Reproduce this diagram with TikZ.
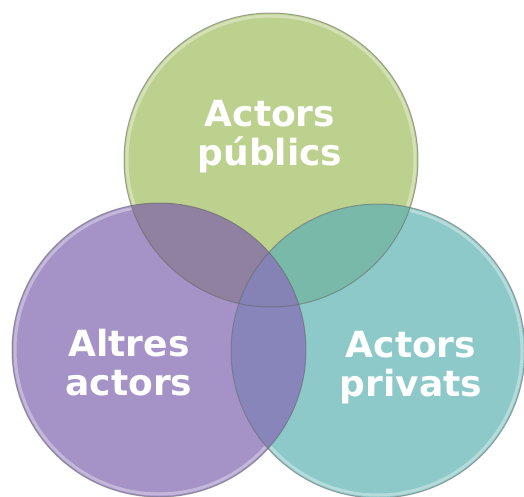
\documentclass[tikz,border=0pt]{standalone}
\usepackage{fontspec}
\setmainfont{DejaVu Sans}
\definecolor{cgreen}{HTML}{BDD18F}
\definecolor{cpurple}{HTML}{A593C7}
\definecolor{cteal}{HTML}{8EC9C9}
\definecolor{cgp}{HTML}{8F819F}
\definecolor{cgt}{HTML}{78B9A9}
\definecolor{cpt}{HTML}{8785BA}
\definecolor{cgpt}{HTML}{8583B6}
\tikzset{
  rim/.style={draw=black!60, draw opacity=0.55, line width=1pt},
  glow/.style={draw=white, draw opacity=0.35, line width=3pt},
  lbl/.style={text=white, font=\bfseries\fontsize{36}{39}\selectfont, align=center, inner sep=0pt}
}
\begin{document}
\begin{tikzpicture}[x=1pt,y=-1pt]
\useasboundingbox (0,0) rectangle (524,497);
\fill[white] (0,0) rectangle (524,497);
\coordinate (g) at (271,160);
\coordinate (p) at (159,350);
\coordinate (t) at (378,351);
\def\rr{147}
% base fills
\fill[cgreen] (g) circle (\rr);
\fill[cpurple] (p) circle (\rr);
\fill[cteal] (t) circle (\rr);
% inner glow rims
\draw[glow] (g) circle (\rr-3);
\draw[glow] (p) circle (\rr-3);
\draw[glow] (t) circle (\rr-3);
% overlaps
\begin{scope}
  \clip (g) circle (\rr);
  \fill[cgp] (p) circle (\rr);
  \fill[cgt] (t) circle (\rr);
\end{scope}
\begin{scope}
  \clip (p) circle (\rr);
  \fill[cpt] (t) circle (\rr);
  \clip (t) circle (\rr);
  \fill[cgpt] (g) circle (\rr);
\end{scope}
% outlines
\draw[rim] (g) circle (\rr);
\draw[rim] (p) circle (\rr);
\draw[rim] (t) circle (\rr);
% labels
\node[lbl] (lg) at (270,137) {Actors\\públics};
\node[lbl] (lp) at (129,363) {Altres\\actors};
\node[lbl] (lt) at (411,368) {Actors\\privats};
\end{tikzpicture}
\end{document}
